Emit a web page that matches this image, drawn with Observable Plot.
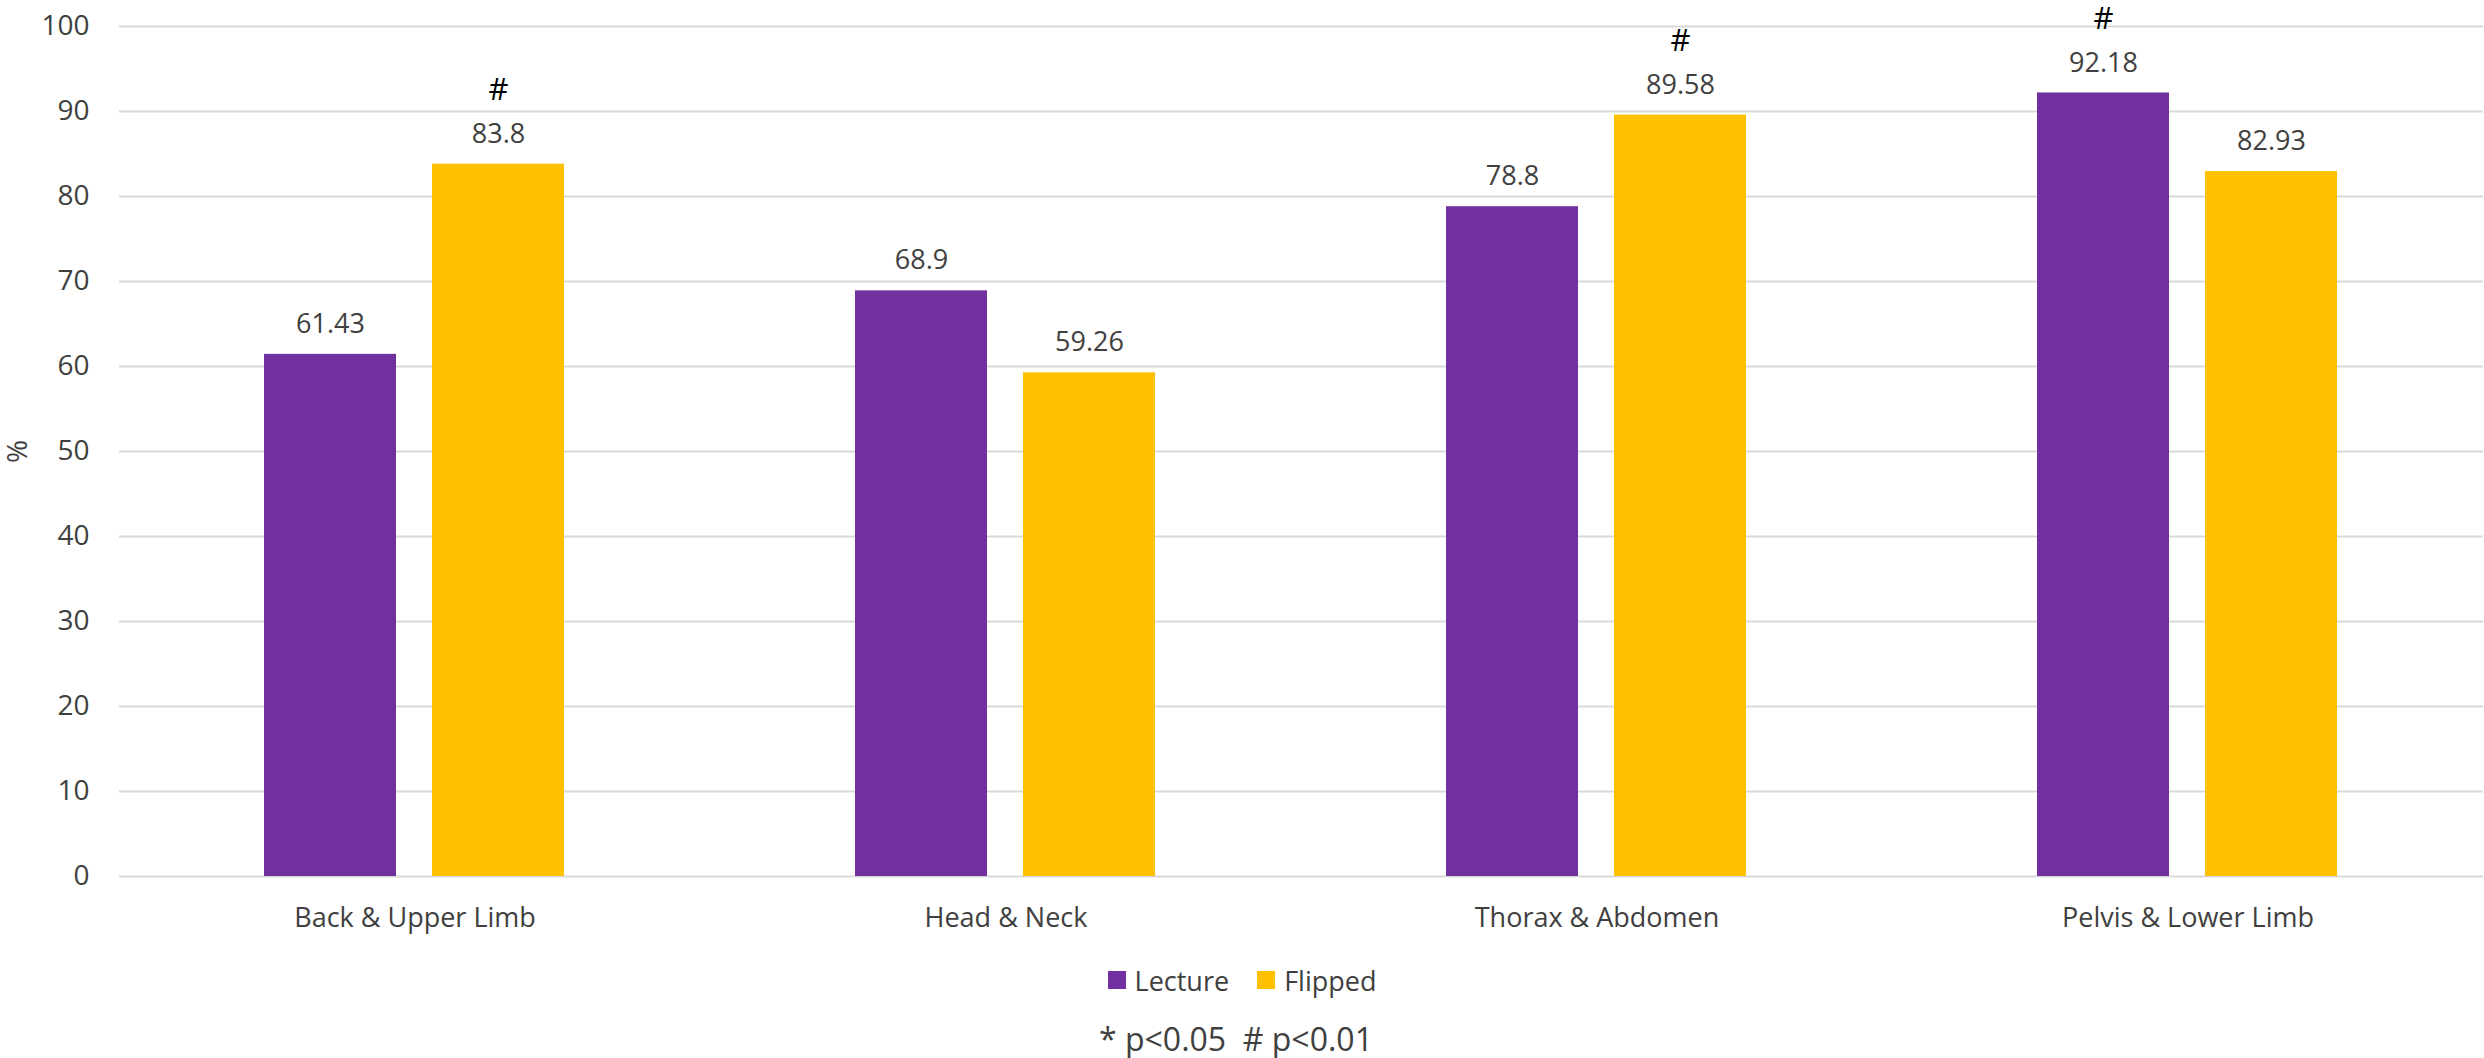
<!DOCTYPE html>
<html>
<head>
<meta charset="utf-8">
<script src="https://cdn.jsdelivr.net/npm/d3@7"></script>
<script src="https://cdn.jsdelivr.net/npm/@observablehq/plot@0.6"></script>
<style>
  html, body { margin: 0; padding: 0; background: #ffffff; }
  body { width: 2484px; height: 1058px; overflow: hidden; font-family: "Open Sans", sans-serif; color: #404040; }
  #legend { height: 70px; display: flex; justify-content: center; align-items: center; font-size: 27px; }
  .item { display: flex; align-items: center; margin: 0 14px; }
  .sw { width: 18px; height: 18px; margin-right: 9px; display: inline-block; }
  #caption { height: 48px; line-height: 48px; text-align: center; font-size: 32px; white-space: pre; padding-right: 12px; }
</style>
</head>
<body>
<div id="chart"></div>
<div id="legend"></div>
<div id="caption"></div>
<script>
// ---- data ----
const categories = ["Back & Upper Limb", "Head & Neck", "Thorax & Abdomen", "Pelvis & Lower Limb"];
const seriesNames = ["Lecture", "Flipped"];
const seriesColors = ["#7030A0", "#FFC000"];
const lecture = [61.43, 68.9, 78.8, 92.18];
const flipped = [83.8, 59.26, 89.58, 82.93];
const lectureSig = ["", "", "", "#"];
const flippedSig = ["#", "", "#", ""];
const yTicks = [0, 10, 20, 30, 40, 50, 60, 70, 80, 90, 100];
const yLabel = "%";
const captionText = "* p<0.05  # p<0.01";

const rows = [];
categories.forEach((c, i) => {
  rows.push({category: c, series: seriesNames[0], value: lecture[i], sig: lectureSig[i]});
  rows.push({category: c, series: seriesNames[1], value: flipped[i], sig: flippedSig[i]});
});

const chart = Plot.plot({
  width: 2484,
  height: 945,
  marginTop: 26,
  marginBottom: 69,
  marginLeft: 118,
  marginRight: 0,
  style: {fontFamily: "'Open Sans', sans-serif", color: "#404040", background: "#ffffff", overflow: "visible"},
  fx: {domain: categories, padding: 0},
  x: {domain: seriesNames, paddingInner: 0.213, paddingOuter: 0.857, axis: null},
  y: {domain: [0, 100]},
  color: {domain: seriesNames, range: seriesColors},
  marks: [
    Plot.ruleY(yTicks, {stroke: "#D9D9D9", strokeWidth: 2}),
    Plot.barY(rows, {fx: "category", x: "series", y: "value", fill: "series"}),
    Plot.text(rows, {fx: "category", x: "series", y: "value", text: d => String(d.value), dy: -30, lineAnchor: "middle", fontSize: 27, fill: "#404040"}),
    Plot.text(rows.filter(d => d.sig), {fx: "category", x: "series", y: "value", text: "sig", dy: -74, lineAnchor: "middle", fontSize: 31, fontWeight: 500, fill: "#000000"}),
    Plot.axisY({ticks: yTicks, tickSize: 0, tickPadding: 30, fontSize: 28, label: yLabel, labelAnchor: "center", labelOffset: 112, labelArrow: "none"}),
    Plot.axisFx({anchor: "bottom", tickSize: 0, tickPadding: 31, fontSize: 27, label: null})
  ]
});
document.getElementById("chart").appendChild(chart);

// legend below
const legend = d3.select("#legend");
seriesNames.forEach((s, i) => {
  const item = legend.append("div").attr("class", "item");
  item.append("span").attr("class", "sw").style("background", seriesColors[i]);
  item.append("span").text(s);
});
document.getElementById("caption").textContent = captionText;
</script>
</body>
</html>
